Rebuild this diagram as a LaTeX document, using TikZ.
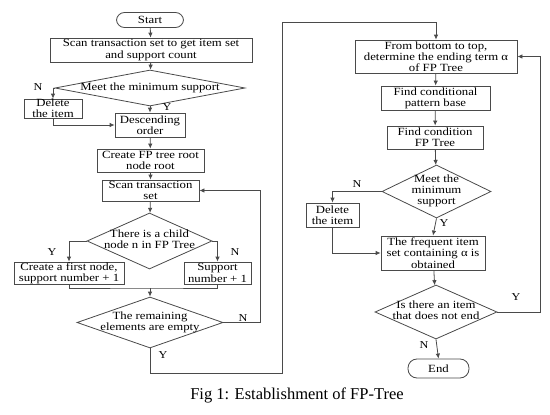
\documentclass[tikz,border=0pt]{standalone}
\usepackage{fontspec}
\setmainfont{Liberation Serif}[FakeStretch=1.16]
\newfontfamily\capfont{Liberation Serif}
\usetikzlibrary{shapes.geometric,arrows.meta}
\definecolor{ln}{HTML}{4A4A4A}
\newcommand{\dtext}[1]{\makebox[0pt]{\begin{tabular}{@{}c@{}}#1\end{tabular}}}
\tikzset{
  every node/.style={font=\fontsize{11}{11.2}\selectfont},
  box/.style={draw=ln, line width=0.8pt, rectangle, inner sep=0pt, align=center},
  term/.style={draw=ln, line width=0.8pt, rectangle, rounded corners=8pt, inner sep=0pt},
  dia/.style={draw=ln, line width=0.8pt, diamond, inner sep=0pt},
  conn/.style={draw=ln, line width=0.8pt},
  arr/.style={conn, -{Latex[length=5pt,width=4.5pt]}},
  lbl/.style={font=\fontsize{10.5}{11}\selectfont, inner sep=0pt},
}
\begin{document}
\begin{tikzpicture}[x=1pt,y=-1pt]
\useasboundingbox[fill=white] (0,0) rectangle (550,415);
% left column
\node[term, minimum width=67pt, minimum height=15pt] (start) at (150,20) {Start};
\node[box, minimum width=202pt, minimum height=24pt] (s1) at (151,50) {Scan transaction set to get item set\\and support count};
\node[dia, minimum width=190pt, minimum height=36pt] (d1) at (150,88) {\dtext{Meet the minimum support}};
\node[box, minimum width=58pt, minimum height=19pt] (del1) at (53,108.5) {Delete\\the item};
\node[box, minimum width=70pt, minimum height=24pt] (desc) at (150,125) {Descending\\order};
\node[box, minimum width=107pt, minimum height=23pt] (create) at (150.5,160.5) {Create FP tree root\\node root};
\node[box, minimum width=97pt, minimum height=21pt] (scan) at (150.5,190.5) {Scan transaction\\set};
\node[dia, minimum width=125pt, minimum height=56pt] (d2) at (149.5,241) {\dtext{There is a child\\node n in FP Tree}};
\node[box, minimum width=110pt, minimum height=22pt] (first) at (69,273) {Create a first node,\\support number + 1};
\node[box, minimum width=67pt, minimum height=22pt] (supp) at (217.5,273) {Support\\number + 1};
\node[dia, minimum width=146pt, minimum height=51pt] (d3) at (150,322.5) {\dtext{The remaining\\elements are empty}};
% right column
\node[box, minimum width=162pt, minimum height=33pt] (fb) at (436,56.5) {From bottom to top,\\determine the ending term α\\of FP Tree};
\node[box, minimum width=109pt, minimum height=24pt] (cpb) at (435.5,98) {Find conditional\\pattern base};
\node[box, minimum width=96pt, minimum height=23pt] (cfp) at (435,137.5) {Find condition\\FP Tree};
\node[dia, minimum width=109pt, minimum height=53pt] (d4) at (436.5,191.5) {\dtext{Meet the\\minimum\\support}};
\node[box, minimum width=53pt, minimum height=24pt] (del2) at (332.5,215) {Delete\\the item};
\node[box, minimum width=104pt, minimum height=34pt] (freq) at (433,253) {The frequent item\\set containing α is\\obtained};
\node[dia, minimum width=122pt, minimum height=54pt] (d5) at (436,312) {\dtext{Is there an item\\that does not end}};
\node[term, minimum width=61pt, minimum height=19pt, rounded corners=9pt] (end) at (438.5,368.5) {End};
% caption
\node[font=\capfont\fontsize{16.5}{18}\selectfont] (cap) at (297,395) {Fig 1: Establishment of FP-Tree};
% helper coordinates
\coordinate (m) at (150,288);
\coordinate (c1) at (282,373);
\coordinate (c2) at (282,22);
% connectors left
\draw[arr] (start) -- (s1);
\draw[arr] (s1) -- (d1);
\draw[arr] (d1.west) -| (del1.north);
\draw[arr] (d1.south) -- (desc.north);
\draw[arr] (del1.south) |- (desc.west);
\draw[arr] (desc) -- (create);
\draw[arr] (create) -- (scan);
\draw[arr] (scan) -- (d2);
\draw[arr] (d2.west) -| (first.north);
\draw[arr] (d2.east) -| (supp.north);
\draw[conn] (first.south) |- (m) -| (supp.south);
\draw[arr] (m) -- (d3.north);
\draw[arr] (d3.east) -- ++(37,0) |- (scan.east);
\draw[arr] (d3.south) |- (c1) -- (c2) -| (fb.north);
% connectors right
\draw[arr] (fb) -- (cpb);
\draw[arr] (cpb) -- (cfp);
\draw[arr] (cfp) -- (d4);
\draw[arr] (d4.west) -| (del2.north);
\draw[arr] (d4.south) -- (freq.north);
\draw[arr] (del2.south) |- (freq.west);
\draw[arr] (freq) -- (d5);
\draw[arr] (d5.east) -- ++(43,0) |- (fb.east);
\draw[arr] (d5.south) -- (end.north);
% labels
\node[lbl] (l1) at (38,87) {N};
\node[lbl] (l2) at (167,107) {Y};
\node[lbl] (l3) at (52,252) {Y};
\node[lbl] (l4) at (235,252) {N};
\node[lbl] (l5) at (243,318) {N};
\node[lbl] (l6) at (163,355) {Y};
\node[lbl] (l7) at (357,184) {N};
\node[lbl] (l8) at (444,223) {Y};
\node[lbl] (l9) at (516,297) {Y};
\node[lbl] (l10) at (424,345) {N};
\end{tikzpicture}
\end{document}
